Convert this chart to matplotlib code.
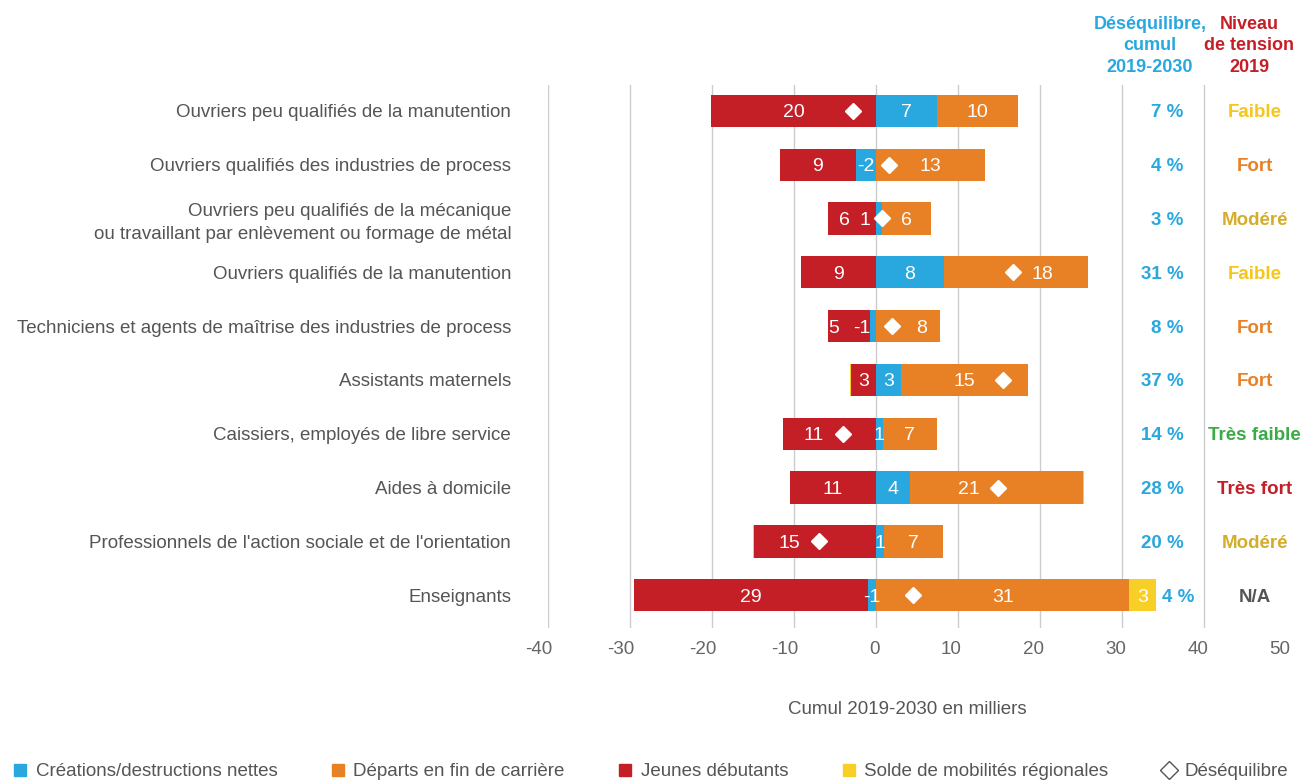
import matplotlib
matplotlib.use('Agg')
import matplotlib.pyplot as plt
import matplotlib.transforms as mtransforms
from matplotlib.patches import Patch
from matplotlib.lines import Line2D

plt.rcParams['font.family'] = ['Liberation Sans', 'DejaVu Sans']

#----Data (milliers, cumul 2019-2030)----
metiers = [
    "Ouvriers peu qualifiés de la manutention",
    "Ouvriers qualifiés des industries de process",
    "Ouvriers peu qualifiés de la mécanique\nou travaillant par enlèvement ou formage de métal",
    "Ouvriers qualifiés de la manutention",
    "Techniciens et agents de maîtrise des industries de process",
    "Assistants maternels",
    "Caissiers, employés de libre service",
    "Aides à domicile",
    "Professionnels de l'action sociale et de l'orientation",
    "Enseignants",
]
jeunes = [20.1, 9.2, 5.9, 9.2, 5.15, 3.0, 11.4, 10.5, 14.9, 28.5]
creations = [7.4, -2.5, 0.7, 8.3, -0.7, 3.1, 0.8, 4.1, 0.95, -1.0]
departs = [9.9, 13.3, 6.0, 17.6, 7.8, 15.4, 6.6, 21.1, 7.2, 30.9]
mobilites = [0.0, 0.0, 0.0, 0.0, 0.0, -0.15, 0.0, 0.15, -0.15, 3.2]
desequilibre = [-2.8, 1.6, 0.7, 16.7, 1.9, 15.5, -4.0, 14.9, -6.95, 4.5]

lbl_jeunes = ['20', '9', '6', '9', '5', '3', '11', '11', '15', '29']
lbl_creations = ['7', '-2', '1', '8', '-1', '3', '1', '4', '1', '-1']
lbl_departs = ['10', '13', '6', '18', '8', '15', '7', '21', '7', '31']
lbl_mobilites = ['', '', '', '', '', '', '', '', '', '3']

pct = ['7 %', '4 %', '3 %', '31 %', '8 %', '37 %', '14 %', '28 %', '20 %', '4 %']
tension = ['Faible', 'Fort', 'Modéré', 'Faible', 'Fort', 'Fort',
           'Très faible', 'Très fort', 'Modéré', 'N/A']

xticks = [-40, -30, -20, -10, 0, 10, 20, 30, 40, 50]

#----Colours----
RED = '#c41f27'
BLUE = '#29a8e0'
ORANGE = '#e88125'
YELLOW = '#f8cf26'
GREY = '#555555'
tension_colors = {
    'Faible': '#f6c61c', 'Fort': '#e88125', 'Modéré': '#d4ad2b',
    'Très faible': '#3aab47', 'Très fort': '#c41f27', 'N/A': '#555555',
}

fig = plt.figure(figsize=(13.01, 7.82), dpi=100)
ax = fig.add_axes([548 / 1301, 1 - 628 / 782, 738 / 1301, 543 / 782])

rows = list(range(len(metiers)))
bh = 0.6

#----Stacked segments----
red_left, blue_left, orange_left, yel_left = [], [], [], []
blue_w, yel_w = [], []
for c, j, d, m in zip(creations, jeunes, departs, mobilites):
    neg = min(c, 0)
    pos = max(c, 0)
    red_left.append(neg - j)
    blue_left.append(neg)
    blue_w.append(abs(c))
    orange_left.append(pos)
    if m >= 0:
        yel_left.append(pos + d)
        yel_w.append(m)
    else:
        yel_left.append(neg - j + m)
        yel_w.append(-m)

ax.barh(rows, jeunes, left=red_left, height=bh, color=RED, zorder=2)
ax.barh(rows, blue_w, left=blue_left, height=bh, color=BLUE, zorder=2)
ax.barh(rows, departs, left=orange_left, height=bh, color=ORANGE, zorder=2)
ax.barh(rows, yel_w, left=yel_left, height=bh, color=YELLOW, zorder=2)

ax.plot(desequilibre, rows, linestyle='none', marker='D', markersize=7.8,
        markerfacecolor='white', markeredgecolor='white', zorder=4)

#----Segment labels (moved away from the diamond when they would overlap)----
nudges = {(2, 'j'): -0.9, (2, 'c'): 1.6, (4, 'j'): -1.9}


def put_label(i, key, left, width, text):
    if not text:
        return
    cx = left + width / 2
    dd = desequilibre[i]
    if abs(cx - dd) < 2.5:
        cx = dd + 3.6 if cx > dd else dd - 3.6
    cx += nudges.get((i, key), 0)
    ax.text(cx, i, text, ha='center', va='center_baseline', color='white',
            fontsize=14, zorder=5)


for i in rows:
    put_label(i, 'j', red_left[i], jeunes[i], lbl_jeunes[i])
    put_label(i, 'c', blue_left[i], blue_w[i], lbl_creations[i])
    put_label(i, 'd', orange_left[i], departs[i], lbl_departs[i])
    put_label(i, 'm', yel_left[i], yel_w[i], lbl_mobilites[i])

#----Right-hand columns----
for i in rows:
    end = max(creations[i], 0) + departs[i] + max(mobilites[i], 0)
    if end > 32:
        ax.text(end + 0.8, i, pct[i], ha='left', va='center_baseline',
                color=BLUE, fontsize=13.5, fontweight='bold')
    else:
        ax.text(37.5, i, pct[i], ha='right', va='center_baseline',
                color=BLUE, fontsize=13.5, fontweight='bold')
    ax.text(46.2, i, tension[i], ha='center', va='center_baseline',
            color=tension_colors[tension[i]], fontsize=13.5, fontweight='bold')

fig.text(1150 / 1301, 1 - 46 / 782, "Déséquilibre,\ncumul\n2019-2030",
         ha='center', va='center', color=BLUE, fontsize=13, fontweight='bold',
         linespacing=1.38)
fig.text(1249 / 1301, 1 - 46 / 782, "Niveau\nde tension\n2019",
         ha='center', va='center', color=RED, fontsize=13, fontweight='bold',
         linespacing=1.38)

#----Axes----
for v in xticks[:-1]:
    ax.axvline(v, color='#cccccc', lw=1, zorder=0)
ax.set_xlim(-40, 50)
ax.set_ylim(9.61, -0.48)
for s in ax.spines.values():
    s.set_visible(False)

ax.set_yticks(rows)
ax.set_yticklabels(metiers, fontsize=13.5, color=GREY, linespacing=1.45)
ax.tick_params(axis='y', length=0, pad=26.5)

ax.set_xticks(xticks)
ax.set_xticklabels([str(v) for v in xticks], fontsize=13.5, color='#666666')
ax.tick_params(axis='x', length=0, pad=9)
offset = mtransforms.ScaledTranslation(0.04, 0, fig.dpi_scale_trans)
for lab in ax.get_xticklabels():
    lab.set_horizontalalignment('right')
    lab.set_transform(lab.get_transform() + offset)

fig.text(907 / 1301, 1 - 710 / 782, "Cumul 2019-2030 en milliers",
         ha='center', va='center', color=GREY, fontsize=13.5)

#----Legend----
handles = [
    Patch(color=BLUE, label='Créations/destructions nettes'),
    Patch(color=ORANGE, label='Départs en fin de carrière'),
    Patch(color=RED, label='Jeunes débutants'),
    Patch(color=YELLOW, label='Solde de mobilités régionales'),
    Line2D([], [], linestyle='none', marker='D', markersize=9,
           markerfacecolor='white', markeredgecolor='#555555',
           label='Déséquilibre'),
]
fig.legend(handles=handles, loc='center', bbox_to_anchor=(651 / 1301, 1 - 772 / 782),
           ncol=5, frameon=False, fontsize=13.5, labelcolor=GREY,
           handlelength=0.65, handleheight=0.65, handletextpad=0.5,
           columnspacing=2.9, borderpad=0)

fig.savefig('out.png', dpi=100)
